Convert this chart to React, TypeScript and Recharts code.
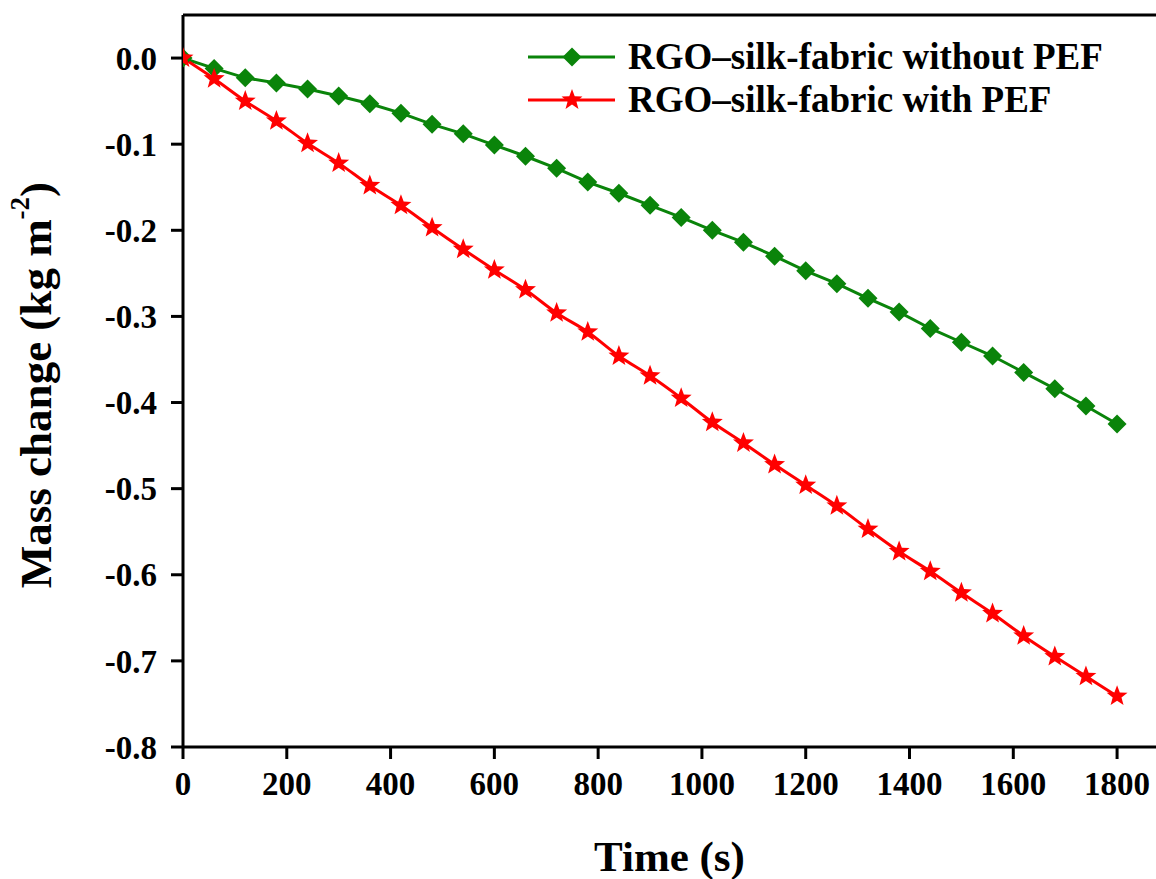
import React from "react";
import { Line, LineChart, ReferenceLine, XAxis, YAxis } from "recharts";

const times = [
  0, 60, 120, 180, 240, 300, 360, 420, 480, 540, 600, 660, 720, 780, 840, 900,
  960, 1020, 1080, 1140, 1200, 1260, 1320, 1380, 1440, 1500, 1560, 1620, 1680,
  1740, 1800,
];

const withoutPEF = [
  0, -0.012, -0.023, -0.029, -0.036, -0.044, -0.053, -0.064, -0.077, -0.088,
  -0.101, -0.114, -0.128, -0.144, -0.157, -0.171, -0.185, -0.2, -0.214, -0.23,
  -0.247, -0.262, -0.279, -0.295, -0.314, -0.33, -0.346, -0.365, -0.384,
  -0.404, -0.425,
];

const withPEF = [
  0, -0.024, -0.05, -0.073, -0.099, -0.122, -0.148, -0.171, -0.197, -0.222,
  -0.246, -0.269, -0.296, -0.318, -0.346, -0.369, -0.395, -0.423, -0.447,
  -0.472, -0.496, -0.52, -0.547, -0.573, -0.596, -0.621, -0.645, -0.671,
  -0.695, -0.718, -0.741,
];

const xTicks = [0, 200, 400, 600, 800, 1000, 1200, 1400, 1600, 1800];
const xMinorTicks = [100, 300, 500, 700, 900, 1100, 1300, 1500, 1700];
const yTicks = [-0.8, -0.7, -0.6, -0.5, -0.4, -0.3, -0.2, -0.1, 0];
const yMinorTicks = [-0.75, -0.65, -0.55, -0.45, -0.35, -0.25, -0.15, -0.05, 0.05];

const GREEN = "#0a840a";
const RED = "#ff0000";
const FONT = "'Liberation Serif', 'Times New Roman', serif";

const data = times.map((t, i) => ({
  t,
  without: withoutPEF[i],
  with: withPEF[i],
}));

function diamondPoints(cx: number, cy: number, r: number) {
  return `${cx},${cy - r} ${cx + r},${cy} ${cx},${cy + r} ${cx - r},${cy}`;
}

function starPoints(cx: number, cy: number, R: number) {
  const r = R * 0.42;
  const pts: string[] = [];
  for (let k = 0; k < 10; k++) {
    const a = -Math.PI / 2 + (k * Math.PI) / 5;
    const rr = k % 2 === 0 ? R : r;
    pts.push(`${cx + rr * Math.cos(a)},${cy + rr * Math.sin(a)}`);
  }
  return pts.join(" ");
}

const Diamond = (props: any) => {
  const { cx, cy, index } = props;
  if (cx == null || cy == null) return null;
  return <polygon key={`d${index}`} points={diamondPoints(cx, cy, 9.5)} fill={GREEN} />;
};

const Star = (props: any) => {
  const { cx, cy, index } = props;
  if (cx == null || cy == null) return null;
  return <polygon key={`s${index}`} points={starPoints(cx, cy, 11)} fill={RED} />;
};

const legendItems = [
  { label: "RGO\u2013silk-fabric without PEF", color: GREEN, shape: "diamond" },
  { label: "RGO\u2013silk-fabric with PEF", color: RED, shape: "star" },
];

// legend drawn as an overlay so it doesn't push the plot area down
const LegendBox = () => (
  <svg
    width={626}
    height={110}
    style={{ position: "absolute", left: 528, top: 27 }}
  >
    {legendItems.map((it, i) => {
      const y = 30 + i * 43;
      return (
        <g key={it.label}>
          <line x1={0} x2={87} y1={y} y2={y} stroke={it.color} strokeWidth={3} />
          {it.shape === "diamond" ? (
            <polygon points={diamondPoints(44, y, 9.5)} fill={it.color} />
          ) : (
            <polygon points={starPoints(44, y, 11)} fill={it.color} />
          )}
          <text
            x={100}
            y={y + 12}
            fontFamily={FONT}
            fontWeight="bold"
            fontSize={37}
            fill="#000"
          >
            {it.label}
          </text>
        </g>
      );
    })}
  </svg>
);

const YTitle = (props: any) => {
  const { viewBox } = props;
  const cy = viewBox.y + viewBox.height / 2 + 4;
  const cx = 36;
  return (
    <text
      x={cx}
      y={cy}
      transform={`rotate(-90, ${cx}, ${cy})`}
      textAnchor="middle"
      dominantBaseline="central"
      fontFamily={FONT}
      fontWeight="bold"
      fontSize={45}
      fill="#000"
    >
      Mass change (kg m
      <tspan fontSize={27} dy={-16}>-2</tspan>
      <tspan dy={16}>)</tspan>
    </text>
  );
};

const tickStyle = { fontFamily: FONT, fontWeight: "bold", fontSize: 33, fill: "#000" };

export default function App() {
  return (
    <div style={{ position: "absolute", left: 0, top: 0, width: 1156, height: 879, background: "#fff" }}>
      <LineChart
        width={1156}
        height={879}
        data={data}
        margin={{ top: 15, right: 0, bottom: 0, left: 0 }}
      >
        <XAxis
          xAxisId="main"
          dataKey="t"
          type="number"
          domain={[0, 1875]}
          ticks={xTicks}
          allowDataOverflow
          height={132}
          tickSize={12}
          tickMargin={13}
          tick={tickStyle}
          axisLine={{ stroke: "#000", strokeWidth: 3 }}
          tickLine={{ stroke: "#000", strokeWidth: 3 }}
          label={{
            value: "Time (s)",
            position: "insideBottom",
            offset: 8,
            style: { fontFamily: FONT, fontWeight: "bold", fontSize: 43, fill: "#000" },
          }}
        />
        <XAxis
          xAxisId="minor"
          dataKey="t"
          type="number"
          domain={[0, 1875]}
          ticks={xMinorTicks}
          allowDataOverflow
          height={0}
          tickSize={6}
          tick={false}
          axisLine={false}
          tickLine={{ stroke: "#000", strokeWidth: 3 }}
        />
        <YAxis
          yAxisId="main"
          type="number"
          domain={[-0.8, 0.05]}
          ticks={yTicks}
          allowDataOverflow
          width={183}
          tickSize={12}
          tickMargin={14}
          tickFormatter={(v: number) => v.toFixed(1)}
          tick={tickStyle}
          axisLine={{ stroke: "#000", strokeWidth: 3 }}
          tickLine={{ stroke: "#000", strokeWidth: 3 }}
          label={<YTitle />}
        />
        <YAxis
          yAxisId="minor"
          type="number"
          domain={[-0.8, 0.05]}
          ticks={yMinorTicks}
          allowDataOverflow
          width={0}
          tickSize={6}
          tick={false}
          axisLine={false}
          tickLine={{ stroke: "#000", strokeWidth: 3 }}
        />
        <ReferenceLine
          xAxisId="main"
          yAxisId="main"
          y={0.05}
          stroke="#000"
          strokeWidth={3}
          ifOverflow="visible"
        />
        <Line
          xAxisId="main"
          yAxisId="main"
          dataKey="without"
          type="linear"
          stroke={GREEN}
          strokeWidth={3}
          dot={<Diamond />}
          activeDot={false}
          isAnimationActive={false}
        />
        <Line
          xAxisId="main"
          yAxisId="main"
          dataKey="with"
          type="monotone"
          stroke={RED}
          strokeWidth={3}
          dot={<Star />}
          activeDot={false}
          isAnimationActive={false}
        />
      </LineChart>
      <LegendBox />
    </div>
  );
}
